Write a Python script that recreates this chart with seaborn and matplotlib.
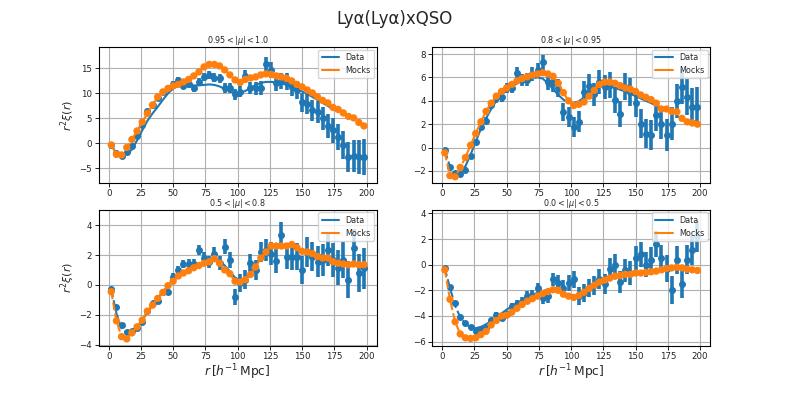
import numpy as np
import pandas as pd
import matplotlib
matplotlib.use("Agg")
import matplotlib.pyplot as plt
import seaborn as sns

sns.set_style("ticks")
plt.rcParams['font.family'] = ['DejaVu Sans']

# separation bins (h^-1 Mpc)
r_bins = [2, 6, 10, 14, 18, 22, 26, 30, 34, 38, 42, 46, 50, 54, 58, 62, 66, 70, 74, 78,
          82, 86, 90, 94, 98, 102, 106, 110, 114, 118, 122, 126, 130, 134, 138, 142, 146, 150, 154, 158,
          162, 166, 170, 174, 178, 182, 186, 190, 194, 198]
r_model = r_bins[:45]  # model drawn up to r_max = 180

panel_titles = [r"$0.95 < |\mu| < 1.0$", r"$0.8 < |\mu| < 0.95$",
                r"$0.5 < |\mu| < 0.8$", r"$0.0 < |\mu| < 0.5$"]

# ---- panel 1: 0.95 < mu < 1.0
data_p1 = [-0.3, -1.9, -2.5, -1.8, -0.6, 1.4, 3.6, 6.4, 7.7, 9.0, 10.3, 11.0, 11.9, 12.6, 11.5, 11.8, 11.0, 12.2, 13.3, 13.7,
           13.1, 13.0, 11.1, 11.1, 9.8, 10.3, 13.5, 11.1, 11.0, 11.0, 15.8, 14.7, 12.0, 12.5, 12.3, 11.3, 10.7, 8.2, 7.8, 6.6,
           6.3, 5.0, 3.4, 2.6, 1.3, -0.3, -2.8, -2.5, -2.8, -2.8]
err_p1 = [0.3, 0.3, 0.3, 0.35, 0.35, 0.4, 0.4, 0.45, 0.45, 0.5, 0.5, 0.55, 0.6, 0.65, 0.65, 0.7, 0.75, 0.8, 0.8, 0.85,
          0.9, 0.95, 1.0, 1.0, 1.05, 1.1, 1.15, 1.2, 1.3, 1.4, 1.5, 1.55, 1.6, 1.65, 1.7, 1.75, 1.8, 1.9, 2.0, 2.1,
          2.2, 2.3, 2.4, 2.5, 2.65, 2.8, 3.0, 3.2, 3.4, 3.6]
mocks_p1 = [-0.3, -2.2, -2.3, -0.8, 0.8, 2.5, 4.3, 6.0, 7.7, 9.3, 10.3, 11.0, 11.5, 11.8, 12.3, 12.8, 13.5, 14.3, 15.3, 15.8,
            15.8, 15.5, 14.7, 13.7, 12.7, 12.2, 12.8, 13.1, 13.3, 13.7, 13.9, 13.8, 13.5, 13.3, 13.0, 12.5, 11.8, 11.3, 10.7, 10.1,
            9.3, 8.6, 8.1, 7.2, 6.8, 6.1, 5.4, 5.1, 4.2, 3.5]
model_p1 = [-0.3, -2.0, -2.5, -2.2, -1.2, 0.6, 2.6, 4.5, 6.0, 7.3, 8.7, 10.0, 11.0, 11.5, 11.7, 11.7, 11.6, 11.6, 11.7, 11.8,
            11.7, 11.4, 10.9, 10.4, 10.1, 10.1, 10.5, 11.1, 11.7, 12.1, 12.3, 12.3, 12.2, 12.0, 11.7, 11.3, 10.9, 10.4, 9.9, 9.3,
            8.7, 8.1, 7.5, 6.9, 6.4]

# ---- panel 2: 0.8 < mu < 0.95
data_p2 = [-0.25, -1.7, -2.2, -2.3, -1.9, -0.75, 0.5, 1.8, 2.3, 3.6, 4.2, 4.3, 5.1, 5.1, 6.4, 5.8, 5.8, 6.3, 6.6, 7.3,
           5.6, 5.5, 5.1, 3.05, 2.6, 1.75, 2.2, 4.75, 5.3, 4.55, 5.6, 5.2, 5.35, 4.05, 2.9, 5.2, 4.75, 3.85, 2.05, 1.2,
           1.05, 2.75, 2.05, 1.1, 2.05, 3.95, 5.2, 4.35, 3.5, 3.5]
err_p2 = [0.15, 0.15, 0.15, 0.18, 0.2, 0.22, 0.25, 0.28, 0.3, 0.33, 0.36, 0.4, 0.43, 0.46, 0.5, 0.53, 0.56, 0.6, 0.63, 0.66,
          0.7, 0.73, 0.76, 0.8, 0.83, 0.86, 0.9, 0.93, 0.96, 1.0, 1.02, 1.05, 1.08, 1.1, 1.12, 1.15, 1.17, 1.2, 1.22, 1.25,
          1.27, 1.3, 1.33, 1.36, 1.4, 1.45, 1.5, 1.55, 1.6, 1.65]
mocks_p2 = [-0.45, -2.4, -2.5, -1.7, -0.85, 0.2, 1.2, 2.2, 3.1, 3.8, 4.4, 4.8, 5.1, 5.4, 5.7, 5.9, 6.05, 6.2, 6.3, 6.4,
            6.3, 6.1, 5.5, 4.7, 4.0, 3.6, 3.7, 3.9, 4.4, 4.9, 5.4, 5.6, 5.6, 5.5, 5.3, 5.1, 5.0, 4.8, 4.5, 4.3,
            4.1, 3.8, 3.3, 3.3, 3.1, 3.05, 2.5, 2.2, 2.1, 2.0]
model_p2 = [-0.3, -1.6, -2.2, -2.2, -1.6, -0.6, 0.5, 1.6, 2.5, 3.3, 4.0, 4.5, 4.9, 5.2, 5.5, 5.7, 5.85, 5.95, 6.0, 5.9,
            5.5, 5.0, 4.5, 4.1, 3.85, 3.8, 3.95, 4.3, 4.7, 5.0, 5.2, 5.25, 5.2, 5.1, 4.95, 4.8, 4.6, 4.4, 4.2, 4.0,
            3.8, 3.6, 3.4, 3.2, 3.0]

# ---- panel 3: 0.5 < mu < 0.8
data_p3 = [-0.3, -1.5, -2.7, -3.15, -3.1, -2.85, -2.45, -1.75, -1.2, -1.05, -0.45, -0.5, 0.55, 1.0, 1.4, 1.4, 1.4, 2.35, 1.8, 1.55,
           2.1, 1.45, 2.55, 1.65, -0.8, 0.1, 0.35, 1.45, 1.0, 2.2, 2.35, 2.1, 1.6, 3.35, 1.9, 1.9, 1.9, 1.0, 2.2, 1.9,
           1.55, 1.65, 2.35, 1.65, 1.15, 1.65, 0.35, 2.45, 0.8, 1.1]
err_p3 = [0.08, 0.08, 0.08, 0.1, 0.1, 0.1, 0.12, 0.12, 0.14, 0.15, 0.17, 0.2, 0.22, 0.25, 0.28, 0.3, 0.32, 0.35, 0.38, 0.4,
          0.43, 0.46, 0.5, 0.53, 0.56, 0.6, 0.62, 0.65, 0.68, 0.7, 0.73, 0.76, 0.8, 0.83, 0.86, 0.9, 0.92, 0.95, 0.98, 1.0,
          1.03, 1.06, 1.1, 1.13, 1.16, 1.2, 1.23, 1.27, 1.3, 1.35]
mocks_p3 = [-0.45, -2.4, -3.45, -3.6, -3.2, -2.8, -2.35, -1.75, -1.35, -0.9, -0.5, -0.05, 0.25, 0.6, 0.8, 0.95, 1.15, 1.3, 1.45, 1.55,
            1.75, 1.45, 1.0, 0.75, 0.25, 0.2, 0.35, 0.7, 1.2, 1.8, 2.2, 2.6, 2.6, 2.6, 2.6, 2.7, 2.5, 2.25, 2.2, 2.1,
            1.9, 1.8, 1.8, 1.55, 1.45, 1.4, 1.35, 1.4, 1.35, 1.35]
model_p3 = [-0.3, -1.9, -2.9, -3.2, -3.1, -2.8, -2.35, -1.85, -1.35, -0.9, -0.45, -0.05, 0.3, 0.6, 0.85, 1.05, 1.2, 1.35, 1.5, 1.6,
            1.7, 1.6, 1.3, 0.9, 0.5, 0.3, 0.4, 0.8, 1.3, 1.8, 2.2, 2.5, 2.6, 2.65, 2.6, 2.55, 2.45, 2.35, 2.25, 2.15,
            2.05, 1.95, 1.85, 1.75, 1.65]

# ---- panel 4: 0.0 < mu < 0.5
data_p4 = [-0.25, -1.7, -3.0, -4.1, -4.55, -4.85, -5.2, -5.05, -4.95, -4.35, -3.9, -4.15, -3.85, -3.25, -3.05, -2.9, -2.45, -2.4, -1.85, -2.6,
           -2.45, -1.15, -1.4, -1.8, -1.4, -1.15, -2.45, -2.2, -1.8, -1.6, -1.1, -1.5, -0.3, 0.0, -1.35, -0.45, -0.65, 0.55, 0.8, 0.0,
           0.35, 1.6, 0.5, -0.3, -1.95, 0.35, -1.5, 0.4, 1.15, 2.2]
err_p4 = [0.1, 0.1, 0.1, 0.12, 0.12, 0.14, 0.15, 0.16, 0.18, 0.2, 0.22, 0.24, 0.27, 0.3, 0.33, 0.36, 0.39, 0.42, 0.45, 0.48,
          0.5, 0.53, 0.56, 0.6, 0.63, 0.66, 0.68, 0.7, 0.72, 0.75, 0.77, 0.8, 0.82, 0.84, 0.86, 0.88, 0.9, 0.93, 0.95, 0.97,
          1.0, 1.02, 1.04, 1.06, 1.08, 1.1, 1.12, 1.14, 1.16, 1.2]
mocks_p4 = [-0.4, -2.7, -4.45, -5.4, -5.7, -5.75, -5.7, -5.45, -5.2, -4.7, -4.35, -4.0, -3.95, -3.7, -3.4, -3.1, -2.85, -2.65, -2.45, -2.25,
            -2.1, -1.95, -2.0, -2.3, -2.45, -2.55, -2.4, -2.15, -1.85, -1.6, -1.35, -1.2, -1.05, -0.9, -0.85, -0.75, -0.75, -0.65, -0.65, -0.6,
            -0.55, -0.5, -0.4, -0.3, -0.25, -0.2, -0.25, -0.35, -0.4, -0.45]
model_p4 = [-0.3, -1.8, -3.2, -4.1, -4.6, -4.9, -4.95, -4.85, -4.65, -4.4, -4.1, -3.8, -3.5, -3.25, -3.0, -2.75, -2.55, -2.35, -2.2, -2.05,
            -1.95, -1.95, -2.05, -2.2, -2.35, -2.45, -2.4, -2.2, -1.95, -1.7, -1.45, -1.25, -1.1, -0.95, -0.85, -0.8, -0.75, -0.7, -0.65, -0.6,
            -0.55, -0.5, -0.45, -0.4, -0.35]

panels = [
    (data_p1, err_p1, mocks_p1, model_p1, (-7.9, 19.2)),
    (data_p2, err_p2, mocks_p2, model_p2, (-3.03, 8.57)),
    (data_p3, err_p3, mocks_p3, model_p3, (-4.05, 5.0)),
    (data_p4, err_p4, mocks_p4, model_p4, (-6.31, 4.26)),
]

r_min_fit = 18  # dashed below this separation

c_data = "#1f77b4"
c_mock = "#ff7f0e"

fig, axes = plt.subplots(2, 2, figsize=(7.89, 3.95), dpi=100)
fig.subplots_adjust(left=0.125, right=0.9, top=0.88, bottom=0.125, hspace=0.2, wspace=0.2)

for i, (ax, (dat, err, mck, mod, ylim)) in enumerate(zip(axes.flat, panels)):
    df = pd.DataFrame({"r": r_bins, "data": dat, "err": err, "mocks": mck})
    dm = pd.DataFrame({"r": r_model, "model": mod, "mockmodel": mck[:len(r_model)]})
    lo = dm[dm.r <= r_min_fit]
    hi = dm[dm.r >= r_min_fit]

    ax.errorbar(df.r, df.data, yerr=df.err, fmt="o", color=c_data, ms=4,
                elinewidth=2.6, capsize=0, zorder=2)
    sns.lineplot(data=lo, x="r", y="model", ax=ax, color=c_data, lw=1.5, ls="--", zorder=3)
    sns.lineplot(data=hi, x="r", y="model", ax=ax, color=c_data, lw=1.5, zorder=3, label="Data")
    sns.scatterplot(data=df, x="r", y="mocks", ax=ax, color=c_mock, s=28, edgecolor="none", zorder=4)
    sns.lineplot(data=lo, x="r", y="mockmodel", ax=ax, color=c_mock, lw=1.5, ls="--", zorder=4)
    sns.lineplot(data=hi, x="r", y="mockmodel", ax=ax, color=c_mock, lw=1.5, zorder=4, label="Mocks")

    ax.set_xlim(-7.8, 207.8)
    ax.set_ylim(*ylim)
    ax.set_xticks([0, 25, 50, 75, 100, 125, 150, 175, 200])
    ax.grid(True, color="#b0b0b0", lw=0.8)
    ax.tick_params(labelsize=6.2, length=2.8, width=0.7, pad=1.8, colors="#222222")
    for s in ax.spines.values():
        s.set_visible(True)
        s.set_color("black")
        s.set_linewidth(0.8)
    ax.set_title(panel_titles[i], fontsize=5.8, pad=2.5)
    ax.set_xlabel(r"$r\,[h^{-1}\,\mathrm{Mpc}]$" if i >= 2 else "", fontsize=8.8, labelpad=1)
    ax.set_ylabel(r"$r^2\xi(r)$" if i % 2 == 0 else "", fontsize=8, labelpad=1.5)
    ax.legend(loc="upper right", fontsize=5.8, framealpha=0.8, handlelength=2.2,
              borderpad=0.4, labelspacing=0.5, borderaxespad=0.3)

fig.suptitle("Lyα(Lyα)xQSO", fontsize=12, y=0.975)
fig.savefig("out.png", dpi=100)
